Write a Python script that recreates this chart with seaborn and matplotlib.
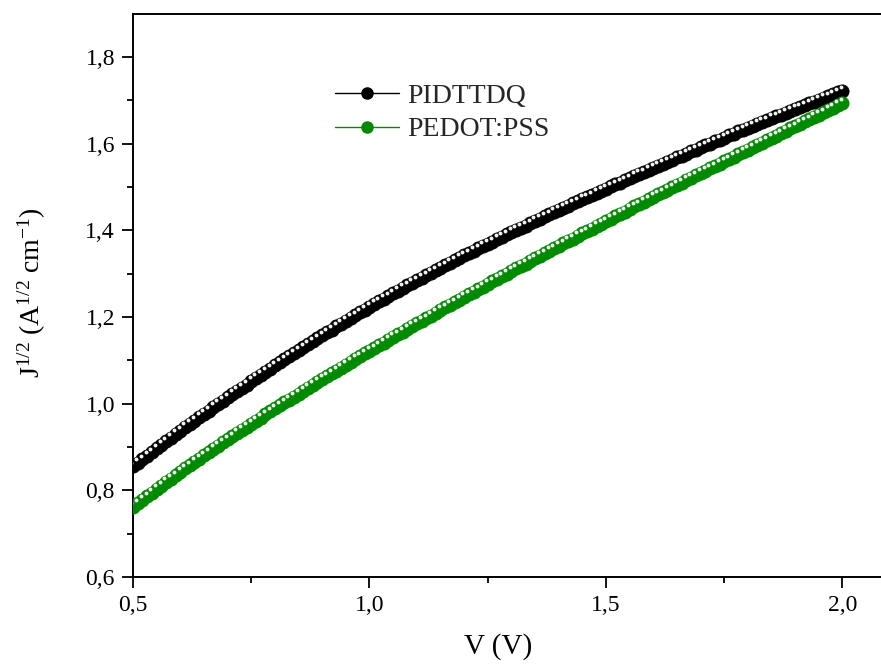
import numpy as np
import pandas as pd
import matplotlib
matplotlib.use("Agg")
import matplotlib.pyplot as plt
import matplotlib.transforms as mtransforms
from matplotlib import font_manager
from matplotlib.lines import Line2D
from matplotlib.ticker import MultipleLocator
import seaborn as sns

# ---------------- data ----------------
voltage = np.round(np.arange(50, 201) / 100.0, 2)

pidttdq = [
    0.855, 0.863, 0.872, 0.880, 0.888, 0.897, 0.905, 0.913, 0.921, 0.930,
    0.938, 0.946, 0.953, 0.961, 0.969, 0.977, 0.984, 0.992, 1.000, 1.007,
    1.015, 1.022, 1.030, 1.037, 1.044, 1.052, 1.059, 1.066, 1.073, 1.081,
    1.088, 1.095, 1.102, 1.109, 1.116, 1.123, 1.130, 1.137, 1.144, 1.151,
    1.158, 1.165, 1.171, 1.178, 1.184, 1.191, 1.198, 1.204, 1.211, 1.217,
    1.224, 1.230, 1.236, 1.242, 1.248, 1.255, 1.261, 1.267, 1.273, 1.279,
    1.285, 1.291, 1.296, 1.302, 1.308, 1.314, 1.319, 1.325, 1.331, 1.336,
    1.342, 1.347, 1.353, 1.358, 1.364, 1.369, 1.374, 1.380, 1.385, 1.391,
    1.396, 1.401, 1.406, 1.411, 1.416, 1.422, 1.427, 1.432, 1.437, 1.442,
    1.447, 1.452, 1.457, 1.462, 1.467, 1.472, 1.476, 1.481, 1.486, 1.491,
    1.496, 1.501, 1.506, 1.510, 1.515, 1.520, 1.525, 1.530, 1.534, 1.539,
    1.544, 1.549, 1.553, 1.558, 1.563, 1.568, 1.572, 1.577, 1.582, 1.586,
    1.591, 1.596, 1.600, 1.605, 1.609, 1.614, 1.619, 1.623, 1.628, 1.632,
    1.637, 1.641, 1.646, 1.650, 1.654, 1.659, 1.663, 1.667, 1.671, 1.676,
    1.680, 1.684, 1.688, 1.693, 1.697, 1.701, 1.705, 1.709, 1.714, 1.718,
    1.722,
]

pedot_pss = [
    0.762, 0.770, 0.778, 0.786, 0.794, 0.803, 0.811, 0.819, 0.827, 0.835,
    0.843, 0.851, 0.858, 0.866, 0.873, 0.881, 0.888, 0.896, 0.903, 0.911,
    0.918, 0.925, 0.932, 0.939, 0.946, 0.954, 0.961, 0.968, 0.975, 0.982,
    0.989, 0.996, 1.003, 1.009, 1.016, 1.023, 1.030, 1.037, 1.043, 1.050,
    1.057, 1.063, 1.070, 1.076, 1.083, 1.090, 1.096, 1.103, 1.109, 1.116,
    1.122, 1.128, 1.135, 1.141, 1.147, 1.154, 1.160, 1.166, 1.172, 1.179,
    1.185, 1.191, 1.197, 1.203, 1.209, 1.216, 1.222, 1.228, 1.234, 1.240,
    1.246, 1.252, 1.258, 1.264, 1.270, 1.276, 1.282, 1.288, 1.294, 1.300,
    1.306, 1.312, 1.318, 1.323, 1.329, 1.335, 1.341, 1.347, 1.352, 1.358,
    1.364, 1.370, 1.375, 1.381, 1.387, 1.393, 1.398, 1.404, 1.410, 1.415,
    1.421, 1.427, 1.432, 1.438, 1.443, 1.449, 1.455, 1.460, 1.466, 1.471,
    1.477, 1.483, 1.488, 1.494, 1.499, 1.505, 1.510, 1.516, 1.521, 1.527,
    1.532, 1.537, 1.543, 1.548, 1.554, 1.559, 1.564, 1.570, 1.575, 1.581,
    1.586, 1.591, 1.597, 1.602, 1.608, 1.613, 1.618, 1.624, 1.629, 1.635,
    1.640, 1.645, 1.651, 1.656, 1.662, 1.667, 1.672, 1.678, 1.683, 1.689,
    1.694,
]

series_names = ["PIDTTDQ", "PEDOT:PSS"]
series_colors = ["#000000", "#008a00"]

x_ticks = [0.5, 1.0, 1.5, 2.0]
x_tick_labels = ["0,5", "1,0", "1,5", "2,0"]
y_ticks = [0.6, 0.8, 1.0, 1.2, 1.4, 1.6, 1.8]
y_tick_labels = ["0,6", "0,8", "1,0", "1,2", "1,4", "1,6", "1,8"]

# ---------------- style ----------------
sns.set_theme(style="white")

serif_name = None
names = sorted({f.name for f in font_manager.fontManager.ttflist})
for cand in ["Liberation Serif", "Times New Roman", "Nimbus Roman", "TeX Gyre Termes"]:
    for n in names:
        if n.lower() == cand.lower():
            serif_name = n
            break
    if serif_name:
        break
if serif_name is None:
    serif_name = "DejaVu Serif"

plt.rcParams["font.family"] = [serif_name, "DejaVu Serif"]
plt.rcParams["mathtext.fontset"] = "custom"
plt.rcParams["mathtext.rm"] = serif_name
plt.rcParams["mathtext.it"] = serif_name + ":italic"

fig = plt.figure(figsize=(8.81, 6.66), dpi=100)
ax = fig.add_axes([133 / 881, 89 / 666, 748 / 881, 563 / 666])

df = pd.DataFrame({
    "V": np.concatenate([voltage, voltage]),
    "J": np.concatenate([pidttdq, pedot_pss]),
    "sample": [series_names[0]] * len(voltage) + [series_names[1]] * len(voltage),
})

hl_trans = mtransforms.offset_copy(ax.transData, fig=fig, x=-1.2, y=2.6, units="points")
for name, col in zip(series_names, series_colors):
    sub = df[df["sample"] == name]
    sns.lineplot(data=sub, x="V", y="J", color=col, marker="o", markersize=9.5,
                 markeredgecolor=col, markeredgewidth=0.6, linewidth=1.0,
                 ax=ax, legend=False, zorder=3)
    ax.plot(sub["V"], sub["J"], linestyle="none", marker="o", markersize=2.8,
            markerfacecolor="#f2f2f2", markeredgecolor="none",
            transform=hl_trans, zorder=4)

ax.set_xlim(0.5, 2.0814)
ax.set_ylim(0.6, 1.899)

ax.set_xticks(x_ticks)
ax.set_xticklabels(x_tick_labels)
ax.set_yticks(y_ticks)
ax.set_yticklabels(y_tick_labels)
ax.xaxis.set_minor_locator(MultipleLocator(0.25))
ax.yaxis.set_minor_locator(MultipleLocator(0.1))

ax.tick_params(axis="both", which="major", direction="out", length=8, width=1.3,
               labelsize=17, color="black", labelcolor="black", pad=5)
ax.tick_params(axis="both", which="minor", direction="out", length=4, width=1.3,
               color="black")
ax.tick_params(axis="x", which="both", bottom=True, top=False)
ax.tick_params(axis="y", which="both", left=True, right=False)

for side in ["left", "bottom", "top"]:
    ax.spines[side].set_visible(True)
    ax.spines[side].set_color("black")
    ax.spines[side].set_linewidth(1.4)
ax.spines["right"].set_visible(False)

ax.set_xlabel("V (V)", fontsize=21, color="black")
ax.set_ylabel(r"J$^{\mathrm{1/2}}$ (A$^{\mathrm{1/2}}$ cm$^{\mathrm{-1}}$)", fontsize=20, color="black")
ax.xaxis.set_label_coords((498 - 133) / 748, -(633 - 577) / 563)
ax.yaxis.set_label_coords(-(133 - 48) / 748, 0.505)

handles = [Line2D([0], [0], color=c, lw=1.0, marker="o", markersize=8,
                  markerfacecolor=c, markeredgecolor=c) for c in series_colors]
leg = ax.legend(handles, series_names, loc="upper left",
                bbox_to_anchor=((324 - 133) / 748, 1 - (72 - 14) / 563),
                frameon=False, fontsize=20, handlelength=2.3, handletextpad=0.3,
                labelspacing=0.3, borderaxespad=0)

fig.savefig("out.png", dpi=100)
